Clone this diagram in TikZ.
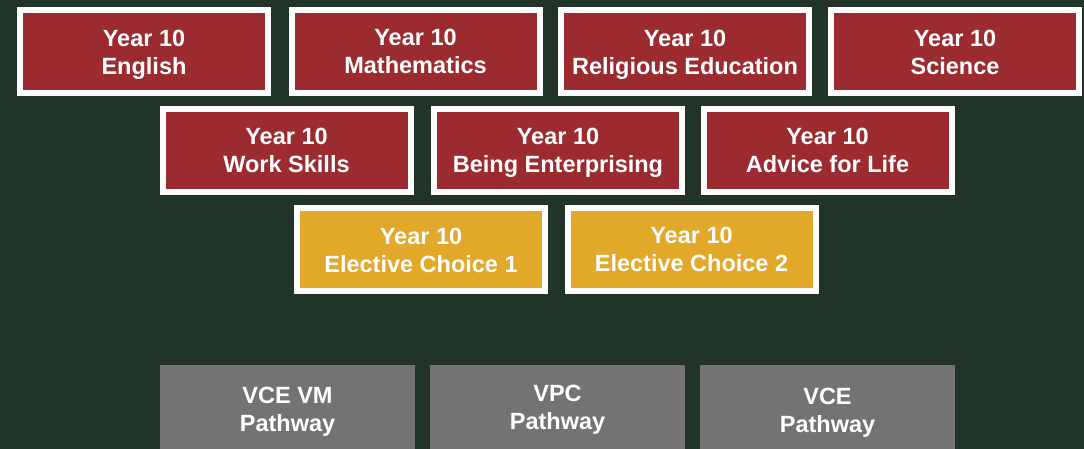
\documentclass[tikz,border=0pt]{standalone}
\usepackage{fontspec}
\setmainfont{Liberation Sans}
\definecolor{bgc}{HTML}{213428}
\definecolor{redc}{HTML}{9C2B2F}
\definecolor{yelc}{HTML}{E2A829}
\definecolor{grayc}{HTML}{737373}
\tikzset{
  subj/.style={draw=white, line width=6pt, fill=redc, minimum width=248pt, minimum height=83pt,
    inner sep=0pt, text=white, align=center, text depth=0pt,
    font=\bfseries\fontsize{23.5}{28}\selectfont},
  elect/.style={subj, fill=yelc},
  path/.style={draw=none, fill=grayc, minimum width=255pt,
    inner sep=0pt, text=white, align=center, text depth=0pt, anchor=north,
    font=\bfseries\fontsize{23.5}{28}\selectfont},
}
\begin{document}
\begin{tikzpicture}[x=1pt,y=1pt]
\clip (0,0) rectangle (1084,449);
\fill[bgc] (0,0) rectangle (1084,449);
% row 1 (y_tikz = 449 - y_px)
\node[subj] (eng) at (144,397) {Year 10\\English};
\node[subj] (mat) at (415.5,397.5) {Year 10\\Mathematics};
\node[subj] (rel) at (685,397) {Year 10\\Religious Education};
\node[subj] (sci) at (955,397) {Year 10\\Science};
% row 2
\node[subj] (work) at (286.5,298.5) {Year 10\\Work Skills};
\node[subj] (ent) at (558,298.5) {Year 10\\Being Enterprising};
\node[subj] (adv) at (827.5,298.5) {Year 10\\Advice for Life};
% row 3
\node[elect] (ec1) at (421,199) {Year 10\\Elective Choice 1};
\node[elect] (ec2) at (691.5,199.5) {Year 10\\Elective Choice 2};
% row 4 (tops at y_px 365)
\node[path, minimum height=88pt] (vm) at (287.5,84) {VCE VM\\Pathway};
\node[path, minimum height=85pt] (vpc) at (557.5,84) {VPC\\Pathway};
\node[path, minimum height=91pt] (vce) at (827.5,84) {VCE\\Pathway};
\end{tikzpicture}
\end{document}
